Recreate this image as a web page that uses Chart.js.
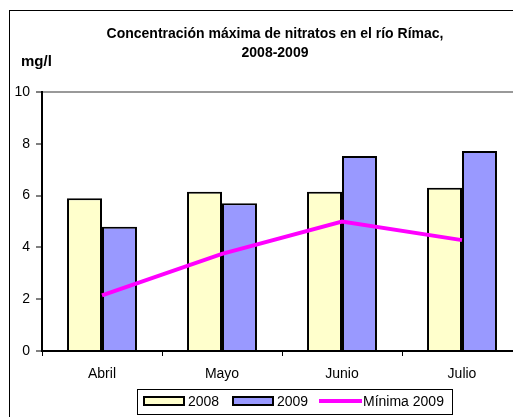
<!DOCTYPE html>
<html>
<head>
<meta charset="utf-8">
<script src="https://cdn.jsdelivr.net/npm/chart.js@4"></script>
<style>
  html, body { margin: 0; padding: 0; background: #fff; overflow: hidden; }
  #wrap { position: absolute; left: 0; top: 0; width: 560px; height: 417px; }
</style>
</head>
<body>
<div id="wrap"><canvas id="chart" width="560" height="417"></canvas></div>
<script>
const months = ['Abril', 'Mayo', 'Junio', 'Julio']
const values2008 = [5.9, 6.15, 6.15, 6.3]
const values2009 = [4.8, 5.7, 7.53, 7.72]
const minima2009 = [2.15, 3.75, 5.0, 4.28]
const yTicks = [0, 2, 4, 6, 8, 10]

const titleLines = ['Concentración máxima de nitratos en el río Rímac,', '2008-2009']
const unitLabel = 'mg/l'

const FONT = "'Liberation Sans', Arial, sans-serif"

// frame, title, unit and the boxed legend
const decorations = {
  id: 'decorations',
  afterDraw (chart) {
    const ctx = chart.ctx
    const ds = chart.data.datasets
    const bar08 = ds.find(d => d.label === '2008')
    const bar09 = ds.find(d => d.label === '2009')
    const line = ds.find(d => d.type === 'line')
    ctx.save()
    ctx.strokeStyle = '#000'
    ctx.lineWidth = 1
    ctx.strokeRect(9.5, 10.5, 531, 430)

    ctx.fillStyle = '#000'
    ctx.textAlign = 'center'
    ctx.textBaseline = 'middle'
    ctx.font = "bold 14px 'Liberation Sans', Arial, sans-serif"
    ctx.fillText(titleLines[0], 275, 34)
    ctx.fillText(titleLines[1], 275, 53)

    ctx.textAlign = 'left'
    ctx.font = "bold 15px 'Liberation Sans', Arial, sans-serif"
    ctx.fillText(unitLabel, 21, 62)

    // legend
    ctx.fillStyle = '#fff'
    ctx.fillRect(137, 389, 315, 25)
    ctx.strokeRect(137.5, 389.5, 315, 25)
    ctx.font = '14px ' + FONT
    ctx.lineWidth = 2
    ctx.fillStyle = bar08.backgroundColor
    ctx.fillRect(144, 397, 40, 8)
    ctx.strokeRect(144, 397, 40, 8)
    ctx.fillStyle = bar09.backgroundColor
    ctx.fillRect(233, 397, 40, 8)
    ctx.strokeRect(233, 397, 40, 8)
    ctx.strokeStyle = line.borderColor
    ctx.lineWidth = 4
    ctx.beginPath()
    ctx.moveTo(319, 401)
    ctx.lineTo(362, 401)
    ctx.stroke()
    ctx.fillStyle = '#000'
    ctx.fillText(bar08.label, 188, 402)
    ctx.fillText(bar09.label, 277, 402)
    ctx.fillText(line.label, 363, 402)
    ctx.restore()
  }
}

const ctx = document.getElementById('chart').getContext('2d')
const chart = new Chart(ctx, {
  data: {
    labels: months,
    datasets: [{
      type: 'line',
      label: 'Mínima 2009',
      data: minima2009,
      borderColor: '#ff00ff',
      borderWidth: 4,
      pointRadius: 0,
      fill: false,
      tension: 0,
      order: 0
    },
    {
      type: 'bar',
      label: '2008',
      data: values2008,
      backgroundColor: '#ffffcc',
      borderColor: '#000',
      borderWidth: 2,
      barPercentage: 1,
      categoryPercentage: 0.583,
      order: 1
    },
    {
      type: 'bar',
      label: '2009',
      data: values2009,
      backgroundColor: '#9999ff',
      borderColor: '#000',
      borderWidth: 2,
      barPercentage: 1,
      categoryPercentage: 0.583,
      order: 1
    }]
  },
  options: {
    responsive: false,
    animation: false,
    layout: { padding: { left: 0, top: 92, right: 38, bottom: 26 } },
    plugins: { legend: { display: false }, title: { display: false }, tooltip: { enabled: false } },
    scales: {
      x: {
        offset: true,
        grid: { offset: true, drawOnChartArea: false, drawTicks: true, tickLength: 5, color: '#000', lineWidth: 1 },
        border: { display: true, color: '#000', width: 2 },
        ticks: { color: '#000', font: { family: FONT, size: 14 }, padding: 10 },
        afterFit (scale) { scale.height = 40 }
      },
      y: {
        min: 0,
        max: 10,
        afterBuildTicks (scale) { scale.ticks = yTicks.map(v => ({ value: v })) },
        grid: {
          color: (c) => c.tick && c.tick.value === 10 ? '#999999' : 'rgba(0,0,0,0)',
          lineWidth: 2,
          tickColor: '#000',
          tickLength: 6,
          tickWidth: 1
        },
        border: { display: true, color: '#000', width: 2 },
        ticks: { color: '#000', font: { family: FONT, size: 14 }, padding: 6 },
        afterFit (scale) { scale.width = 42 }
      }
    }
  },
  plugins: [decorations]
})
</script>
</body>
</html>
